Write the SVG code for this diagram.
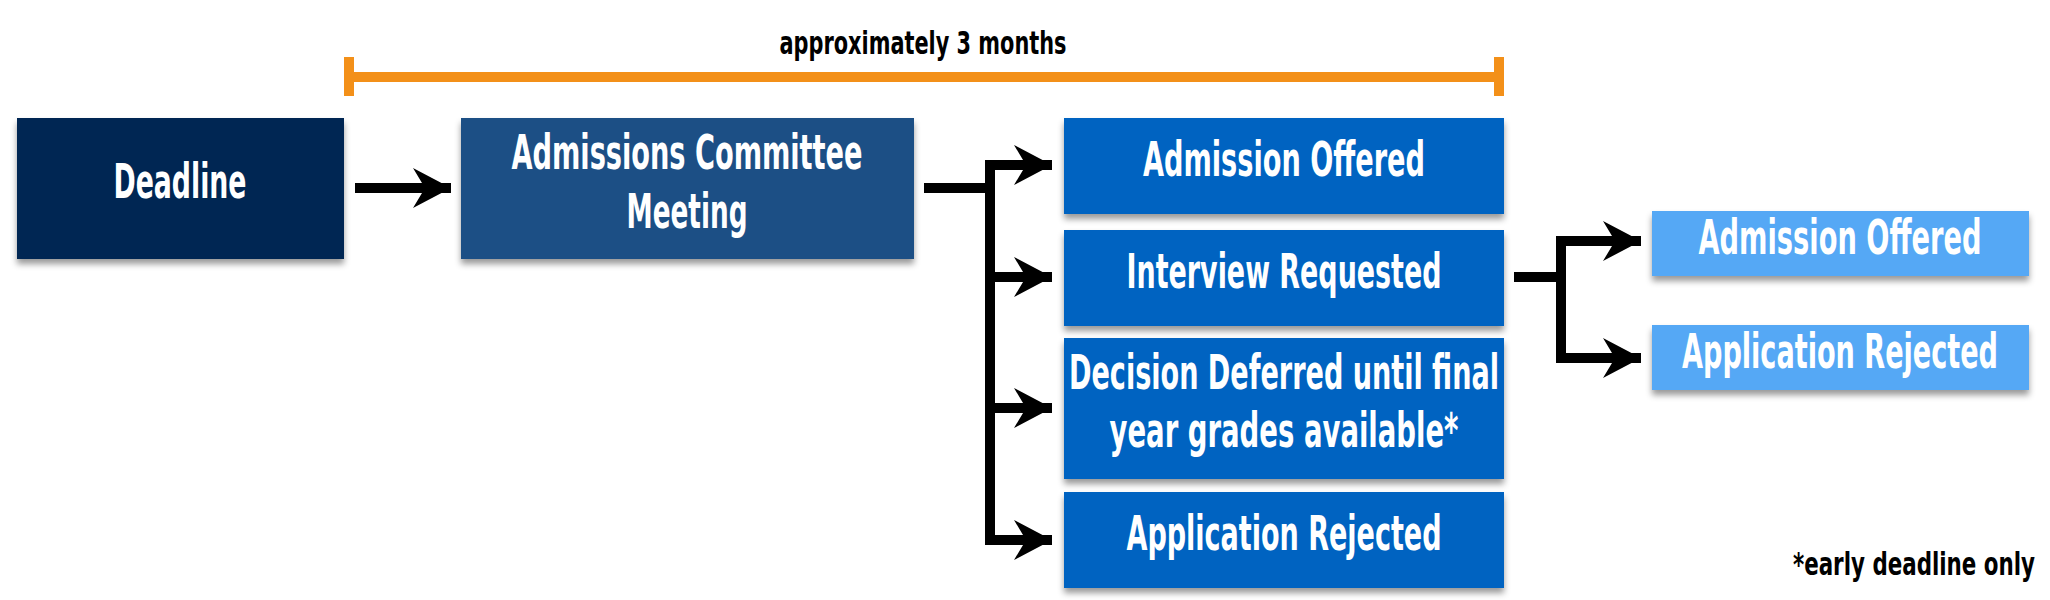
<svg xmlns="http://www.w3.org/2000/svg" width="2050" height="600" viewBox="0 0 2050 600">
<defs>
<filter id="sh" x="-5%" y="-10%" width="110%" height="130%"><feDropShadow dx="0" dy="5" stdDeviation="3" flood-color="#000" flood-opacity="0.4"/></filter>
<marker id="ah" viewBox="0 0 40 40" refX="38" refY="20" markerWidth="40" markerHeight="40" markerUnits="userSpaceOnUse" orient="auto"><path d="M0,0 L38,20 L0,40 L12,20 Z" fill="#000"/></marker>
<style>
.t{font-family:"DejaVu Sans Condensed","DejaVu Sans",sans-serif;font-weight:bold;fill:#fff;font-size:48px;text-anchor:middle}
.s{font-family:"DejaVu Sans Condensed","DejaVu Sans",sans-serif;font-weight:bold;fill:#000;font-size:32px}
.c{fill:none;stroke:#000;stroke-width:10}
</style>
</defs>
<rect width="2050" height="600" fill="#fff"/>
<g id="timeline">
<line x1="344" y1="77" x2="1504" y2="77" stroke="#f39019" stroke-width="10"/>
<line x1="349" y1="57" x2="349" y2="96" stroke="#f39019" stroke-width="10"/>
<line x1="1499" y1="57" x2="1499" y2="96" stroke="#f39019" stroke-width="10"/>
<text class="s" x="923" y="54" text-anchor="middle" textLength="287" lengthAdjust="spacingAndGlyphs">approximately 3 months</text>
</g>
<g id="deadline"><rect x="17" y="118" width="327" height="141" fill="#012652" filter="url(#sh)"/><text class="t" x="180" y="198" textLength="133" lengthAdjust="spacingAndGlyphs">Deadline</text></g>
<g id="committee"><rect x="461" y="118" width="453" height="141" fill="#1a4f85" filter="url(#sh)"/><text class="t" x="687" y="169" textLength="351" lengthAdjust="spacingAndGlyphs">Admissions Committee</text><text class="t" x="687" y="228" textLength="121" lengthAdjust="spacingAndGlyphs">Meeting</text></g>
<g id="offered1"><rect x="1064" y="118" width="440" height="96" fill="#0563c1" filter="url(#sh)"/><text class="t" x="1284" y="176" textLength="282" lengthAdjust="spacingAndGlyphs">Admission Offered</text></g>
<g id="interview"><rect x="1064" y="230" width="440" height="96" fill="#0563c1" filter="url(#sh)"/><text class="t" x="1284" y="288" textLength="315" lengthAdjust="spacingAndGlyphs">Interview Requested</text></g>
<g id="deferred"><rect x="1064" y="338" width="440" height="141" fill="#0563c1" filter="url(#sh)"/><text class="t" x="1284" y="389" textLength="430" lengthAdjust="spacingAndGlyphs">Decision Deferred until final</text><text class="t" x="1284" y="447" textLength="349" lengthAdjust="spacingAndGlyphs">year grades available*</text></g>
<g id="rejected1"><rect x="1064" y="492" width="440" height="96" fill="#0563c1" filter="url(#sh)"/><text class="t" x="1284" y="550" textLength="315" lengthAdjust="spacingAndGlyphs">Application Rejected</text></g>
<g id="offered2"><rect x="1652" y="211" width="377" height="65" fill="#55a8f5" filter="url(#sh)"/><text class="t" x="1840" y="254" textLength="283" lengthAdjust="spacingAndGlyphs">Admission Offered</text></g>
<g id="rejected2"><rect x="1652" y="325" width="377" height="65" fill="#55a8f5" filter="url(#sh)"/><text class="t" x="1840" y="368" textLength="316" lengthAdjust="spacingAndGlyphs">Application Rejected</text></g>
<g id="connectors">
<line class="c" x1="355" y1="188" x2="451" y2="188" marker-end="url(#ah)"/>
<path class="c" d="M924,188 H990"/>
<path class="c" d="M990,160 V545"/>
<line class="c" x1="985" y1="165" x2="1052" y2="165" marker-end="url(#ah)"/>
<line class="c" x1="990" y1="277" x2="1052" y2="277" marker-end="url(#ah)"/>
<line class="c" x1="990" y1="408" x2="1052" y2="408" marker-end="url(#ah)"/>
<line class="c" x1="985" y1="540" x2="1052" y2="540" marker-end="url(#ah)"/>
<path class="c" d="M1514,277 H1561"/>
<path class="c" d="M1561,236 V363"/>
<line class="c" x1="1556" y1="241" x2="1641" y2="241" marker-end="url(#ah)"/>
<line class="c" x1="1556" y1="358" x2="1641" y2="358" marker-end="url(#ah)"/>
</g>
<text id="footnote" class="s" x="2035" y="575" text-anchor="end" textLength="242" lengthAdjust="spacingAndGlyphs">*early deadline only</text>
</svg>
